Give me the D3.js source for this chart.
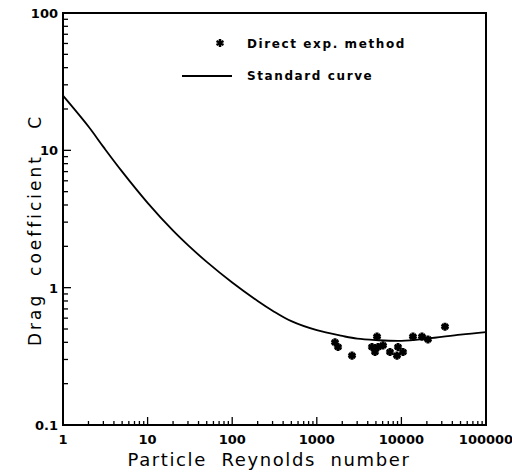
<!DOCTYPE html>
<html><head><meta charset="utf-8">
<script src="https://cdn.jsdelivr.net/npm/d3@7"></script>
<style>body{margin:0;background:#fff}svg{display:block}text{font-family:"DejaVu Sans",sans-serif;fill:#000}</style>
</head><body><svg id="c" width="512" height="473"></svg>
<script>
const curveRe = [1,2,3,5,10,20,30,50,100,200,300,500,1000,2000,3000,5000,10000,20000,50000,100000];
const curveC  = [25,14.9,10.6,7.0,4.15,2.6,2.04,1.54,1.09,0.80,0.68,0.57,0.49,0.445,0.425,0.415,0.41,0.425,0.455,0.475];
const expRe = [1641,1782,2607,4490,5150,5290,6060,4875,7330,8870,10450,9120,13700,17500,20600,32750];
const expC  = [0.40,0.37,0.32,0.37,0.44,0.37,0.38,0.34,0.34,0.32,0.34,0.37,0.44,0.44,0.42,0.52];
const xTicks = [1,10,100,1000,10000,100000];
const xTickLabels = ["1","10","100","1000","10000","100000"];
const yTicks = [0.1,1,10,100];
const yTickLabels = ["0.1","1","10","100"];
const legendLabels = ["Direct exp. method","Standard curve"];
const xTitle = "Particle\u00a0 Reynolds\u00a0 number";
const yTitle = "Drag\u00a0 coefficient\u00a0\u00a0 C";

const L=63,R=486,T=13,B=425;
const svg=d3.select("#c");
const x=d3.scaleLog().domain([1,100000]).range([L,R]);
const y=d3.scaleLog().domain([0.1,100]).range([B,T]);

const minorX=[];for(let d=1;d<100000;d*=10)for(let k=2;k<=9;k++)minorX.push(d*k);
const minorY=[];for(let d=0.1;d<99;d*=10)for(let k=2;k<=9;k++)minorY.push(d*k);
const g=svg.append("g").attr("stroke","#000").attr("stroke-width",1.3);
g.selectAll(".mx").data(minorX).join("line").attr("x1",d=>x(d)).attr("x2",d=>x(d)).attr("y1",B).attr("y2",B-4);
g.selectAll(".Mx").data(xTicks).join("line").attr("x1",d=>x(d)).attr("x2",d=>x(d)).attr("y1",B).attr("y2",B-8);
g.selectAll(".my").data(minorY).join("line").attr("y1",d=>y(d)).attr("y2",d=>y(d)).attr("x1",L).attr("x2",L+5);
g.selectAll(".My").data(yTicks).join("line").attr("y1",d=>y(d)).attr("y2",d=>y(d)).attr("x1",L).attr("x2",L+8);

svg.append("rect").attr("x",L).attr("y",T).attr("width",R-L).attr("height",B-T)
  .attr("fill","none").attr("stroke","#000").attr("stroke-width",2);

svg.selectAll(".xl").data(xTicks).join("text").attr("x",d=>x(d)).attr("y",B+19)
  .attr("text-anchor","middle").attr("font-size",13).attr("font-weight","bold")
  .text((d,i)=>xTickLabels[i]);
svg.selectAll(".yl").data(yTicks).join("text").attr("x",L-5).attr("y",d=>y(d)+5)
  .attr("text-anchor","end").attr("font-size",13).attr("font-weight","bold")
  .text((d,i)=>yTickLabels[i]);

svg.append("text").attr("x",269).attr("y",466).attr("text-anchor","middle")
  .attr("font-size",18).attr("letter-spacing",1.6).text(xTitle);
svg.append("text").attr("transform","translate(41,230) rotate(-90)").attr("text-anchor","middle")
  .attr("font-size",17).attr("letter-spacing",3).text(yTitle);

const line=d3.line().x(d=>x(d[0])).y(d=>y(d[1])).curve(d3.curveCatmullRom);
svg.append("path").datum(curveRe.map((r,i)=>[r,curveC[i]])).attr("d",line)
  .attr("fill","none").attr("stroke","#000").attr("stroke-width",1.8);

const sym=d3.symbol().type(d3.symbolAsterisk).size(45);
svg.selectAll(".pt").data(expRe.map((r,i)=>[r,expC[i]])).join("path")
  .attr("transform",d=>`translate(${x(d[0])},${y(d[1])})`).attr("d",sym)
  .attr("fill","none").attr("stroke","#000").attr("stroke-width",3);

svg.append("path").attr("transform","translate(220,43)").attr("d",sym)
  .attr("fill","none").attr("stroke","#000").attr("stroke-width",2.5);
svg.append("line").attr("x1",182).attr("x2",232).attr("y1",76).attr("y2",76).attr("stroke","#000").attr("stroke-width",1.8);
svg.append("text").attr("x",247).attr("y",48).attr("font-size",12).attr("letter-spacing",1.6).attr("font-weight",600).text(legendLabels[0]);
svg.append("text").attr("x",247).attr("y",80).attr("font-size",12).attr("letter-spacing",1.6).attr("font-weight",600).text(legendLabels[1]);
</script></body></html>
